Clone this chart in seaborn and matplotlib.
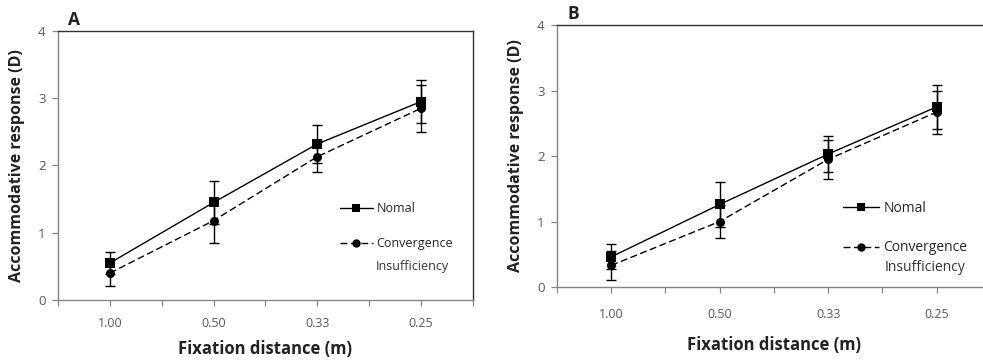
import matplotlib
matplotlib.use("Agg")
import matplotlib.pyplot as plt
import seaborn as sns
import pandas as pd
from matplotlib.lines import Line2D

# Data
distances = ["1.00", "0.50", "0.33", "0.25"]

a_normal = [0.55, 1.45, 2.32, 2.95]
a_normal_sd = [0.17, 0.32, 0.28, 0.32]
a_ci = [0.40, 1.18, 2.13, 2.85]
a_ci_sd = [0.19, 0.34, 0.22, 0.35]

b_normal = [0.46, 1.26, 2.03, 2.75]
b_normal_sd = [0.19, 0.34, 0.28, 0.33]
b_ci = [0.33, 1.00, 1.95, 2.67]
b_ci_sd = [0.22, 0.25, 0.30, 0.33]

groups = ["Nomal", "Convergence"]

sns.set_theme(style="white")
plt.rcParams["font.family"] = ["Open Sans", "DejaVu Sans"]

fig = plt.figure(figsize=(9.83, 3.63), dpi=100)
ax_a = fig.add_axes([0.059, 0.1736, 0.422, 0.741])
ax_b = fig.add_axes([0.5666, 0.2094, 0.4414, 0.7216])

axis_col = "#868686"
frame_col = "#333333"
tick_col = "#595959"


def draw_panel(ax, normal, normal_sd, ci, ci_sd, letter, tick_pad,
               xlabel_y, leg_anchor, leg_fs, insuff_xy):
    x = list(range(len(distances)))
    df = pd.DataFrame({
        "x": x * 2,
        "y": normal + ci,
        "group": [groups[0]] * len(x) + [groups[1]] * len(x),
    })
    sns.lineplot(data=df, x="x", y="y", style="group", ax=ax,
                 markers={"Nomal": "s", "Convergence": "o"},
                 dashes={"Nomal": "", "Convergence": (5, 2.5)},
                 color="black", linewidth=1.0, markersize=6.5,
                 markeredgewidth=0, legend=False, zorder=3)
    ax.errorbar(x, normal, yerr=normal_sd, fmt="none", ecolor="black",
                elinewidth=1.0, capsize=3.5, capthick=1.0, zorder=2)
    ax.errorbar(x, ci, yerr=ci_sd, fmt="none", ecolor="black",
                elinewidth=1.0, capsize=3.5, capthick=1.0, zorder=2)

    ax.set_xlim(-0.5, len(distances) - 0.5)
    ax.set_ylim(0, 4)
    ax.set_yticks([0, 1, 2, 3, 4])
    # labelled ticks at categories, extra tick marks at the boundaries
    ax.set_xticks(x)
    ax.set_xticklabels(distances)
    ax.set_xticks([i - 0.5 for i in range(len(distances) + 1)], minor=True)
    ax.tick_params(axis="x", which="both", direction="out", length=4,
                   width=0.9, color=axis_col, bottom=True)
    ax.tick_params(axis="x", which="major", pad=tick_pad, labelsize=9,
                   labelcolor=tick_col)
    ax.tick_params(axis="y", direction="out", length=4, width=0.9,
                   color=axis_col, left=True, labelsize=9.5,
                   labelcolor=tick_col, pad=5)
    for side, s in ax.spines.items():
        s.set_color(axis_col if side in ("left", "bottom") else frame_col)
        s.set_linewidth(1.0)

    ax.set_xlabel("Fixation distance (m)", fontsize=12, fontweight="bold",
                  color="#222222")
    ax.xaxis.set_label_coords(0.5, xlabel_y)
    ax.set_ylabel("Accommodative response (D)", fontsize=11.5,
                  fontweight="bold", color="#222222", labelpad=9)
    ax.text(0.024, 1.0 + 11 / 265, letter, transform=ax.transAxes,
            fontsize=12.5, fontweight="bold", color="#222222", va="center")

    handles = [
        Line2D([], [], color="black", lw=1.0, marker="s", markersize=6,
               markeredgewidth=0),
        Line2D([], [], color="black", lw=1.0, ls=(0, (5, 2.5)), marker="o",
               markersize=6, markeredgewidth=0),
    ]
    ax.legend(handles, groups, loc="upper left", bbox_to_anchor=leg_anchor,
              frameon=False, fontsize=leg_fs, handlelength=2.6,
              handletextpad=0.3, labelspacing=1.75, borderpad=0,
              borderaxespad=0)
    ax.text(insuff_xy[0], insuff_xy[1], "Insufficiency",
            transform=ax.transAxes, fontsize=leg_fs, color="#333333",
            va="center")


draw_panel(ax_a, a_normal, a_normal_sd, a_ci, a_ci_sd, "A", 8, -0.149,
           (0.68, 0.364), 9, (0.766, 0.123))
draw_panel(ax_b, b_normal, b_normal_sd, b_ci, b_ci_sd, "B", 11, -0.187,
           (0.659, 0.328), 10, (0.756, 0.0725))

fig.savefig("out.png", dpi=100)
